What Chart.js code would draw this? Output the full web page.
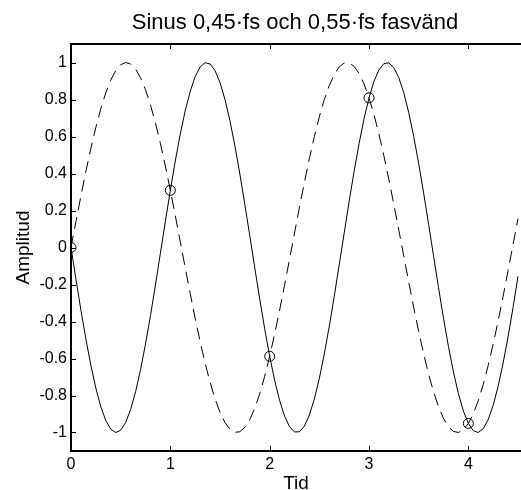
<!DOCTYPE html>
<html lang="sv">
<head>
  <meta charset="UTF-8">
  <title>Sinus 0,45·fs och 0,55·fs fasvänd</title>
  <script src="https://cdn.jsdelivr.net/npm/chart.js"></script>
  <style>
    html, body { margin: 0; padding: 0; background: #fff; }
    #wrap { width: 521px; height: 490px; }
  </style>
</head>
<body>
  <div id="wrap"><canvas id="chartCanvas"></canvas></div>

  <script>
    // tid (0..4.5, steg 0.05) och avlästa värden
    const tid = [];
    for (let k = 0; k <= 90; k++) tid.push(+(k * 0.05).toFixed(2));

    // streckad kurva (0,45·fs)
    const sin045 = [
      0, 0.141, 0.279, 0.412, 0.536, 0.649, 0.750, 0.836, 0.905, 0.956,
      0.988, 1.000, 0.992, 0.965, 0.918, 0.853, 0.771, 0.673, 0.562, 0.440,
      0.309, 0.172, 0.031, -0.110, -0.249, -0.383, -0.509, -0.625, -0.729, -0.818,
      -0.891, -0.946, -0.982, -0.999, -0.996, -0.972, -0.930, -0.869, -0.790, -0.696,
      -0.588, -0.468, -0.339, -0.203, -0.063, 0.078, 0.218, 0.353, 0.482, 0.600,
      0.707, 0.800, 0.876, 0.935, 0.976, 0.997, 0.998, 0.979, 0.941, 0.884,
      0.809, 0.718, 0.613, 0.495, 0.368, 0.233, 0.094, -0.047, -0.187, -0.324,
      -0.454, -0.575, -0.685, -0.781, -0.861, -0.924, -0.969, -0.994, -1.000, -0.985,
      -0.951, -0.898, -0.827, -0.740, -0.637, -0.522, -0.397, -0.264, -0.125, 0.016,
      0.156
    ];

    // heldragen kurva (0,55·fs fasvänd)
    const sin055 = [
      0, -0.172, -0.339, -0.495, -0.637, -0.760, -0.861, -0.935, -0.982, -1.000,
      -0.988, -0.946, -0.876, -0.780, -0.661, -0.522, -0.368, -0.203, -0.031, 0.141,
      0.309, 0.468, 0.613, 0.740, 0.844, 0.924, 0.976, 0.999, 0.992, 0.956,
      0.891, 0.800, 0.685, 0.549, 0.397, 0.233, 0.063, -0.110, -0.279, -0.440,
      -0.588, -0.718, -0.827, -0.911, -0.969, -0.997, -0.996, -0.965, -0.905, -0.818,
      -0.707, -0.575, -0.426, -0.264, -0.094, 0.078, 0.249, 0.412, 0.562, 0.696,
      0.809, 0.898, 0.960, 0.994, 0.998, 0.972, 0.918, 0.836, 0.729, 0.600,
      0.454, 0.294, 0.125, -0.047, -0.218, -0.383, -0.536, -0.673, -0.790, -0.884,
      -0.951, -0.990, -1.000, -0.979, -0.930, -0.853, -0.750, -0.625, -0.482, -0.324,
      -0.156
    ];

    // samplade punkter (ringar)
    const sampTid = [0, 1, 2, 3, 4];
    const sampVal = [0, 0.309, -0.588, 0.809, -0.951];

    const xTicks = [0, 1, 2, 3, 4];
    const yTicks = [-1, -0.8, -0.6, -0.4, -0.2, 0, 0.2, 0.4, 0.6, 0.8, 1];

    const FONT = "'Liberation Sans', Arial, sans-serif";

    // ram (höger kant ligger utanför bilden) + inåtriktade tickmarkeringar
    const boxPlugin = {
      id: 'box',
      afterLayout(chart) {
        // centrera titeln över ritytan
        if (chart.titleBlock) {
          chart.titleBlock.left = chart.chartArea.left;
          chart.titleBlock.right = chart.chartArea.left + 448;
        }
      },
      afterDraw(chart) {
        const { ctx, chartArea: a, scales } = chart;
        ctx.save();
        ctx.strokeStyle = '#000';
        ctx.lineWidth = 2;
        ctx.beginPath();
        ctx.moveTo(a.right + 2, a.top);
        ctx.lineTo(a.left, a.top);
        ctx.lineTo(a.left, a.bottom);
        ctx.lineTo(a.right + 2, a.bottom);
        ctx.stroke();
        ctx.lineWidth = 1;
        ctx.beginPath();
        xTicks.forEach(v => {
          const px = Math.round(scales.x.getPixelForValue(v)) + 0.5;
          ctx.moveTo(px, a.bottom); ctx.lineTo(px, a.bottom - 5);
          ctx.moveTo(px, a.top); ctx.lineTo(px, a.top + 5);
        });
        yTicks.forEach(v => {
          const py = Math.round(scales.y.getPixelForValue(v)) + 0.5;
          ctx.moveTo(a.left, py); ctx.lineTo(a.left + 5, py);
        });
        ctx.stroke();
        ctx.restore();
      }
    };

    new Chart(document.getElementById('chartCanvas'), {
      type: 'scatter',
      data: {
        datasets: [
          {
            data: tid.map((t, i) => ({ x: t, y: sin055[i] })),
            showLine: true, borderColor: '#000', borderWidth: 1,
            pointRadius: 0, tension: 0, fill: false
          },
          {
            data: tid.map((t, i) => ({ x: t, y: sin045[i] })),
            showLine: true, borderColor: '#000', borderWidth: 1, borderDash: [12, 7],
            pointRadius: 0, tension: 0, fill: false
          },
          {
            data: sampTid.map((t, i) => ({ x: t, y: sampVal[i] })),
            showLine: false, pointStyle: 'circle', pointRadius: 5,
            pointBorderColor: '#000', pointBackgroundColor: 'rgba(0,0,0,0)', pointBorderWidth: 1
          }
        ]
      },
      options: {
        responsive: true,
        maintainAspectRatio: false,
        animation: false,
        layout: { padding: 0, autoPadding: false },
        plugins: {
          legend: { display: false },
          tooltip: { enabled: false },
          title: {
            display: true,
            text: 'Sinus 0,45·fs och 0,55·fs fasvänd',
            color: '#000',
            font: { family: FONT, size: 22, weight: 'normal' },
            padding: { top: 10, bottom: 7.6 }
          }
        },
        scales: {
          x: {
            type: 'linear', min: 0, max: 4.53,
            afterBuildTicks: s => { s.ticks = xTicks.map(v => ({ value: v })); },
            afterFit: s => { s.height = 39; s.paddingRight = 0; s.paddingLeft = 0; },
            grid: { display: false, drawTicks: false },
            border: { display: false },
            ticks: { color: '#000', padding: 4, maxRotation: 0, font: { family: FONT, size: 16 },
                     callback: v => String(v) },
            title: { display: true, text: 'Tid', color: '#000', padding: { top: 0, bottom: -5.5 },
                     font: { family: FONT, size: 19 } }
          },
          y: {
            type: 'linear', min: -1.1, max: 1.1,
            afterBuildTicks: s => { s.ticks = yTicks.map(v => ({ value: v })); },
            afterFit: s => { s.width = 71; },
            grid: { display: false, drawTicks: false },
            border: { display: false },
            ticks: { color: '#000', padding: 4, font: { family: FONT, size: 16 },
                     callback: v => String(v) },
            title: { display: true, text: 'Amplitud', color: '#000', padding: { top: 12, bottom: 0 },
                     font: { family: FONT, size: 19 } }
          }
        }
      },
      plugins: [boxPlugin]
    });
  </script>
</body>
</html>
